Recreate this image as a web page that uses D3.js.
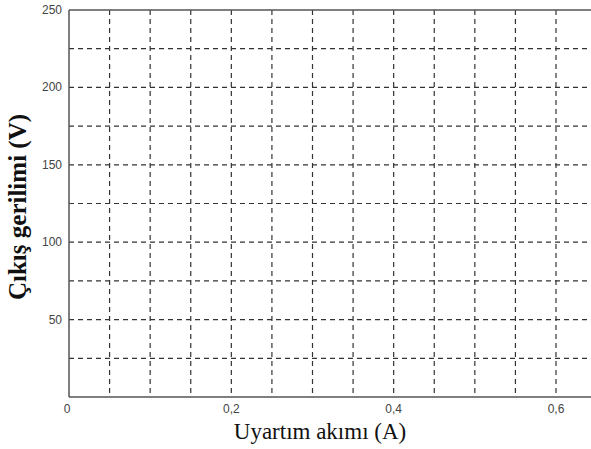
<!DOCTYPE html>
<html><head><meta charset="utf-8">
<script src="https://cdn.jsdelivr.net/npm/d3@7"></script>
<style>body{margin:0;background:#fff;overflow:hidden}</style>
</head><body>
<svg id="c" width="591" height="449"></svg>
<script>
const xTicks = [0, 0.2, 0.4, 0.6];
const xTickLabels = ["0", "0,2", "0,4", "0,6"];
const yTicks = [50, 100, 150, 200, 250];
const xGrid = [0.05,0.1,0.15,0.2,0.25,0.3,0.35,0.4,0.45,0.5,0.55,0.6];
const yGrid = [25,50,75,100,125,150,175,200,225];
const xTitle = "Uyartım akımı (A)";
const yTitle = "Çıkış gerilimi (V)";

const svg = d3.select("#c");
const L = 69, T = 10, B = 397;
const x = d3.scaleLinear().domain([0, 0.65]).range([L, L + 0.65 * (556 - 69) / 0.6]);
const y = d3.scaleLinear().domain([0, 250]).range([B, T]);

const g = svg.append("g");
g.selectAll(".vg").data(xGrid).enter().append("line")
  .attr("x1", d => x(d)).attr("x2", d => x(d)).attr("y1", T).attr("y2", B)
  .attr("stroke", "#333").attr("stroke-width", 1.2).attr("stroke-dasharray", "5,4");
g.selectAll(".hg").data(yGrid).enter().append("line")
  .attr("y1", d => y(d)).attr("y2", d => y(d)).attr("x1", L).attr("x2", x(0.65))
  .attr("stroke", "#333").attr("stroke-width", 1.2).attr("stroke-dasharray", "5,4");

// frame
svg.append("line").attr("x1", L).attr("x2", x(0.65)).attr("y1", T).attr("y2", T).attr("stroke", "#555").attr("stroke-width", 1.5);
svg.append("line").attr("x1", L).attr("x2", x(0.65)).attr("y1", B).attr("y2", B).attr("stroke", "#555").attr("stroke-width", 1.5);
svg.append("line").attr("x1", L).attr("x2", L).attr("y1", T).attr("y2", B).attr("stroke", "#555").attr("stroke-width", 1.5);

svg.selectAll(".xt").data(xTicks).enter().append("text")
  .attr("x", (d, i) => x(d) - (i === 0 ? 2 : 0)).attr("y", 413)
  .attr("text-anchor", "middle").attr("font-family", "Liberation Sans, Arial, sans-serif")
  .attr("font-size", 12).attr("fill", "#444").text((d, i) => xTickLabels[i]);
svg.selectAll(".yt").data(yTicks).enter().append("text")
  .attr("x", 62).attr("y", d => y(d) + 4)
  .attr("text-anchor", "end").attr("font-family", "Liberation Sans, Arial, sans-serif")
  .attr("font-size", 12).attr("fill", "#444").text(d => d);

svg.append("text").attr("x", 320).attr("y", 439).attr("text-anchor", "middle")
  .attr("font-family", "Liberation Serif, Times New Roman, serif").attr("font-size", 23)
  .attr("fill", "#111").text(xTitle);
svg.append("text").attr("transform", "translate(26,207) rotate(-90)").attr("text-anchor", "middle")
  .attr("font-family", "Liberation Serif, Times New Roman, serif").attr("font-size", 25)
  .attr("font-weight", "bold").attr("fill", "#111").text(yTitle);
</script>
</body></html>
